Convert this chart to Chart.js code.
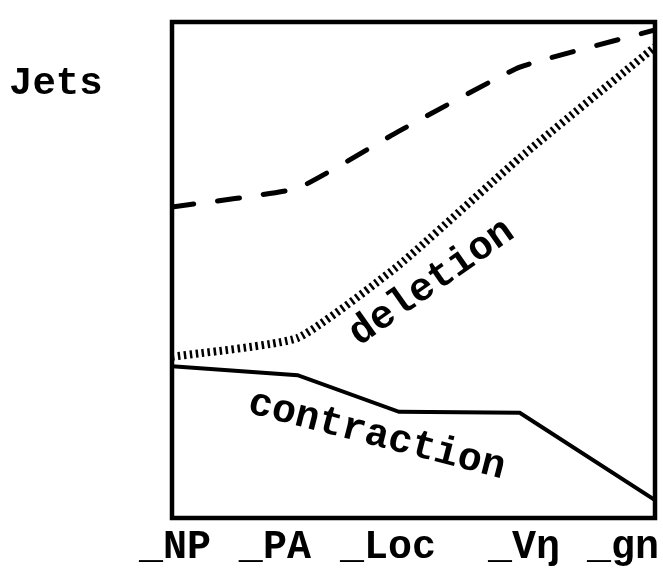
<!DOCTYPE html>
<html>
<head>
<meta charset="utf-8">
<script src="https://cdn.jsdelivr.net/npm/chart.js@4/dist/chart.umd.min.js"></script>
<style>
  html, body { margin: 0; padding: 0; background: #fff; }
  #wrap { width: 663px; height: 572px; }
</style>
</head>
<body>
<div id="wrap"><canvas id="jets"></canvas></div>
<script>
// stages along the x axis (0..100) and where the tick labels sit
const categories = ['_NP', '_PA', '_Loc', '_V\u014B', '_gn'];
const stageX = [0, 26, 47, 72, 100];
const tickX = [0.6, 21.3, 44.7, 72.9, 93.4];

// estimated heights (0..100) of each curve at each stage
const upperDashed = [62.7, 66.5, 78.0, 90.9, 98.4];
const deletion = [32.5, 36.3, 51.0, 72.6, 95.0];
const contraction = [30.6, 28.8, 21.4, 21.2, 3.6];

// in-plot labels, placed in data units
const noteText = ['deletion', 'contraction'];
const noteX = [53.8, 42.4];
const noteY = [47.4, 16.6];
const noteAngle = [-35, 14.5];

const typeFont = '"Liberation Mono", "Courier New", monospace';

const toPoints = (ys) => ys.map((y, i) => ({x: stageX[i], y: y}));

const boxAndNotes = {
  id: 'boxAndNotes',
  afterDatasetsDraw(chart) {
    const {ctx, chartArea, scales} = chart;
    ctx.save();
    ctx.strokeStyle = '#000';
    ctx.lineWidth = 4.5;
    ctx.strokeRect(chartArea.left, chartArea.top,
      chartArea.right - chartArea.left, chartArea.bottom - chartArea.top);

    ctx.fillStyle = '#000';
    ctx.textAlign = 'center';
    ctx.textBaseline = 'middle';
    ctx.font = 'bold 40px ' + typeFont;
    for (let i = 0; i < noteText.length; i++) {
      ctx.save();
      ctx.translate(scales.x.getPixelForValue(noteX[i]), scales.y.getPixelForValue(noteY[i]));
      ctx.rotate(noteAngle[i] * Math.PI / 180);
      ctx.fillText(noteText[i], 0, 0);
      ctx.restore();
    }

    // axis caption at top left
    ctx.textAlign = 'left';
    ctx.font = 'bold 39px ' + typeFont;
    ctx.fillText('Jets', 9, 84);
    ctx.restore();
  }
};

new Chart(document.getElementById('jets'), {
  type: 'line',
  data: {
    datasets: [{
      data: toPoints(upperDashed),
      borderColor: '#000',
      borderWidth: 5,
      borderDash: [22, 24],
      borderCapStyle: 'round',
      pointRadius: 0,
      tension: 0.12
    }, {
      data: toPoints(deletion),
      borderColor: '#000',
      borderWidth: 8,
      borderDash: [2.5, 3.5],
      pointRadius: 0,
      tension: 0.15
    }, {
      data: toPoints(contraction),
      borderColor: '#000',
      borderWidth: 4,
      pointRadius: 0,
      tension: 0
    }]
  },
  options: {
    responsive: true,
    maintainAspectRatio: false,
    animation: false,
    layout: {padding: {left: 172, top: 22, right: 8, bottom: 2}},
    plugins: {
      legend: {display: false},
      tooltip: {enabled: false}
    },
    scales: {
      x: {
        type: 'linear',
        min: 0,
        max: 100,
        grid: {display: false},
        border: {display: false},
        afterBuildTicks(scale) {
          scale.ticks = tickX.map(v => ({value: v}));
        },
        ticks: {
          autoSkip: false,
          maxRotation: 0,
          padding: 2,
          color: '#000',
          font: {family: typeFont, size: 40, weight: 'bold', lineHeight: 1.0},
          callback: (v, i) => categories[i]
        }
      },
      y: {
        display: false,
        min: 0,
        max: 100
      }
    }
  },
  plugins: [boxAndNotes]
});
</script>
</body>
</html>
